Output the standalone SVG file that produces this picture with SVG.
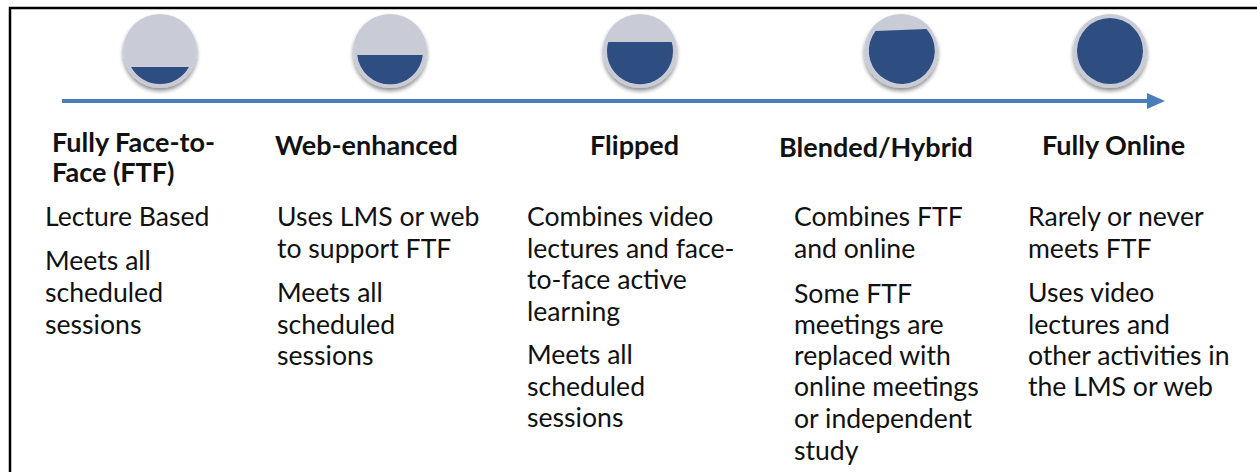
<svg xmlns="http://www.w3.org/2000/svg" width="1257" height="472" viewBox="0 0 1257 472">
<style>
.h{font-family:Lato,"Open Sans","Liberation Sans",sans-serif;font-weight:bold;font-size:27px;fill:#111}
.b{font-family:Lato,"Open Sans","Liberation Sans",sans-serif;font-size:26.6px;fill:#111}
.ring{fill:#c9ccd6}
.fill{fill:#2e4d81}
</style>
<defs>
<filter id="sh" x="-30%" y="-30%" width="160%" height="160%">
<feGaussianBlur in="SourceAlpha" stdDeviation="2"/>
<feOffset dy="3"/>
<feComponentTransfer><feFuncA type="linear" slope="0.45"/></feComponentTransfer>
<feMerge><feMergeNode/><feMergeNode in="SourceGraphic"/></feMerge>
</filter>
</defs>
<rect x="0" y="0" width="1257" height="472" fill="#fff"/>
<path d="M10 472 V8 H1257" fill="none" stroke="#000" stroke-width="2.5"/>
<g id="connectors">
<line x1="62" y1="101" x2="1150" y2="101" stroke="#4a7ebb" stroke-width="4"/>
<polygon points="1147,93 1165,101 1147,109" fill="#4a7ebb"/>
</g>
<g id="n1">
<circle cx="160" cy="51" r="37" class="ring" filter="url(#sh)"/>
<path class="fill" d="M131.1 67 L188.9 67 A33 33 0 0 1 131.1 67 Z"/>
<text class="h" x="52" y="152">Fully Face-to-</text>
<text class="h" x="52" y="182">Face (FTF)</text>
<text class="b" x="45" y="226">Lecture Based</text>
<text class="b" x="45" y="270">Meets all</text>
<text class="b" x="45" y="302">scheduled</text>
<text class="b" x="45" y="334">sessions</text>
</g>
<g id="n2">
<circle cx="390" cy="51" r="37" class="ring" filter="url(#sh)"/>
<path class="fill" d="M357.2 55 L422.8 55 A33 33 0 0 1 357.2 55 Z"/>
<text class="h" x="275" y="155">Web-enhanced</text>
<text class="b" x="277" y="226">Uses LMS or web</text>
<text class="b" x="277" y="258">to support FTF</text>
<text class="b" x="277" y="302">Meets all</text>
<text class="b" x="277" y="334">scheduled</text>
<text class="b" x="277" y="365">sessions</text>
</g>
<g id="n3">
<circle cx="640" cy="51" r="37" class="ring" filter="url(#sh)"/>
<path class="fill" d="M608.3 42 L671.7 42 A33 33 0 1 1 608.3 42 Z"/>
<text class="h" x="590" y="155">Flipped</text>
<text class="b" x="527" y="226">Combines video</text>
<text class="b" x="527" y="258">lectures and face-</text>
<text class="b" x="527" y="289">to-face active</text>
<text class="b" x="527" y="321">learning</text>
<text class="b" x="527" y="364">Meets all</text>
<text class="b" x="527" y="396">scheduled</text>
<text class="b" x="527" y="427">sessions</text>
</g>
<g id="n4">
<circle cx="901" cy="51" r="37" class="ring" filter="url(#sh)"/>
<path class="fill" d="M875.5 31 L926.5 29 A33 33 0 1 1 875.5 31 Z"/>
<text class="h" x="779" y="157">Blended/Hybrid</text>
<text class="b" x="794" y="226">Combines FTF</text>
<text class="b" x="794" y="258">and online</text>
<text class="b" x="794" y="303">Some FTF</text>
<text class="b" x="794" y="334">meetings are</text>
<text class="b" x="794" y="365">replaced with</text>
<text class="b" x="794" y="396">online meetings</text>
<text class="b" x="794" y="428">or independent</text>
<text class="b" x="794" y="460">study</text>
</g>
<g id="n5">
<circle cx="1110" cy="51" r="37" class="ring" filter="url(#sh)"/>
<circle cx="1110" cy="51" r="33" class="fill"/>
<text class="h" x="1042" y="155">Fully Online</text>
<text class="b" x="1028" y="226">Rarely or never</text>
<text class="b" x="1028" y="258">meets FTF</text>
<text class="b" x="1028" y="302">Uses video</text>
<text class="b" x="1028" y="334">lectures and</text>
<text class="b" x="1028" y="365">other activities in</text>
<text class="b" x="1028" y="396">the LMS or web</text>
</g>
</svg>
